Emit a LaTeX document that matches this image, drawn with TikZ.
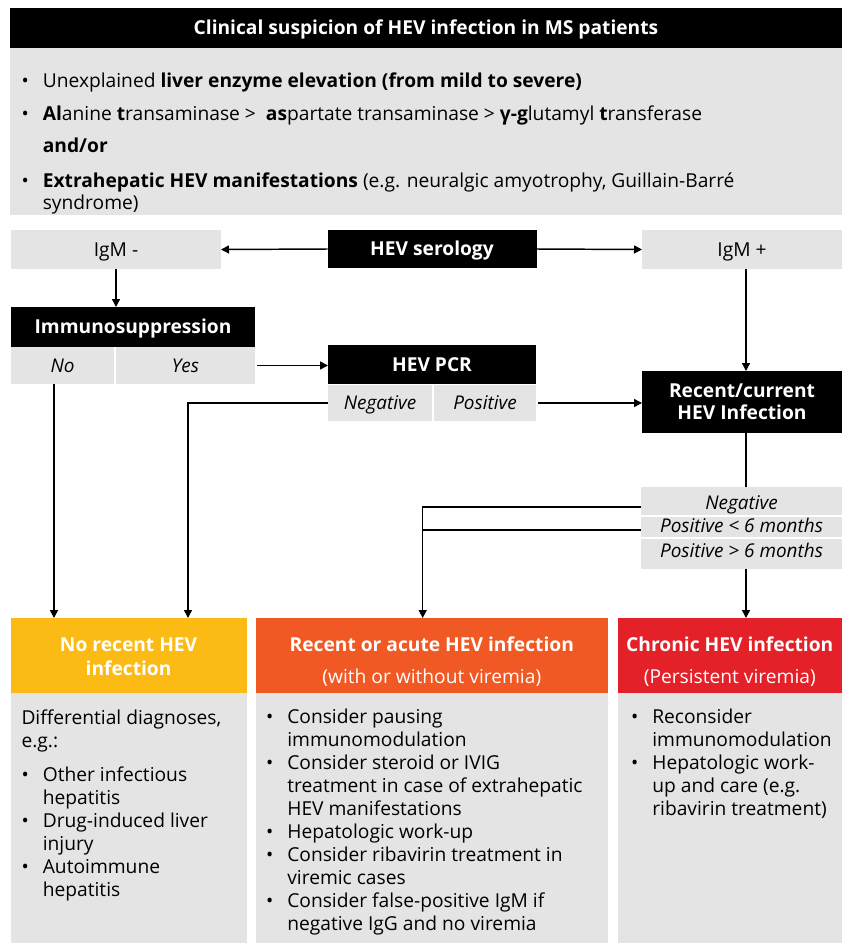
\documentclass[tikz,border=0pt]{standalone}
\usepackage{fontspec}
\setmainfont{Open Sans}
\usetikzlibrary{arrows.meta}
\definecolor{lgray}{RGB}{228,228,228}
\definecolor{hyellow}{RGB}{252,187,20}
\definecolor{horange}{RGB}{240,88,36}
\definecolor{hred}{RGB}{228,32,40}
\newcommand{\bx}{\makebox[16pt][l]{\textbullet}}
\newcommand{\ind}{\hspace*{16pt}}
\tikzset{
  blk/.style={fill=black, text=white, font=\fontsize{14.4}{16.5}\selectfont\bfseries},
  gry/.style={fill=lgray, font=\fontsize{14.4}{16.5}\selectfont},
  cell/.style={fill=lgray, font=\fontsize{14.2}{16.5}\selectfont\itshape},
  ctr/.style={text height=10.3pt, text depth=0pt},
  hdr/.style={text=white, align=center, font=\fontsize{14.4}{18}\selectfont},
  bodybox/.style={fill=lgray},
  body/.style={anchor=base west, align=left, font=\fontsize{14.4}{17.25}\selectfont},
  arr/.style={-{Triangle[length=6pt,width=6pt]}, line width=1.1pt},
  ln/.style={line width=1.1pt},
}
\begin{document}
\begin{tikzpicture}[x=0.75pt,y=-0.75pt,
  every node/.style={inner sep=0pt, outer sep=0pt}]
\useasboundingbox (0,0) rectangle (842,943);
\fill[white] (0,0) rectangle (842,943);

% header
\node[blk, ctr, minimum width=624pt, minimum height=30pt] (head) at (426,28) {Clinical suspicion of HEV infection in MS patients};
\node[bodybox, minimum width=624pt, minimum height=125.25pt] (crit) at (426,131.5) {};
\node[body, font=\fontsize{14.4}{16.5}\selectfont] (crittext) at (21.5,209.5) {%
\bx Unexplained \textbf{liver enzyme elevation (from mild to severe)}\\[8.25pt]
\bx\textbf{Al}anine \textbf{t}ransaminase >\ \ \textbf{as}partate transaminase > \textbf{γ-g}lutamyl \textbf{t}ransferase\\[7.5pt]
\ind\textbf{and/or}\\[9.75pt]
\bx\textbf{Extrahepatic HEV manifestations} (e.g. neuralgic amyotrophy, Guillain-Barré\\
\ind syndrome)};

% serology row
\node[gry, ctr, minimum width=157.5pt, minimum height=29.25pt] (igmneg) at (116,249.5) {IgM -};
\node[blk, ctr, minimum width=156.75pt, minimum height=28.5pt] (sero) at (432,249) {HEV serology};
\node[gry, ctr, minimum width=150pt, minimum height=29.25pt] (igmpos) at (742,249.5) {IgM +};

% immunosuppression
\node[blk, ctr, minimum width=183pt, minimum height=30pt] (immuno) at (133,327) {Immunosuppression};
\node[cell, ctr, minimum width=77.25pt, minimum height=27.75pt] (no) at (62.5,365.5) {No};
\node[cell, ctr, minimum width=104.25pt, minimum height=27.75pt] (yes) at (185.5,365.5) {Yes};

% PCR
\node[blk, ctr, minimum width=156pt, minimum height=29.25pt] (pcr) at (432,364.5) {HEV PCR};
\node[cell, ctr, minimum width=78pt, minimum height=27pt] (neg) at (380,403) {Negative};
\node[cell, ctr, minimum width=76.5pt, minimum height=27pt] (pos) at (485,403) {Positive};

% recent/current
\node[blk, minimum width=150pt, minimum height=46.5pt, align=center] (recent) at (742,402) {Recent/current\\HEV Infection};
\node[cell, minimum width=150.75pt, minimum height=21.4pt, text height=13.3pt, text depth=0pt] (r1) at (741.5,501) {Negative};
\node[cell, minimum width=150.75pt, minimum height=14.6pt, text height=10.3pt, text depth=2.2pt] (r2) at (741.5,527) {Positive < 6 months};
\node[cell, minimum width=150.75pt, minimum height=22.5pt, text height=10.3pt, text depth=5.8pt] (r3) at (741.5,554) {Positive > 6 months};

% bottom boxes
\node[fill=hyellow, minimum width=176.85pt, minimum height=56.25pt] (yellow) at (128.6,655.5) {};
\node[fill=horange, minimum width=264.3pt, minimum height=56.25pt] (orange) at (431.8,655.5) {};
\node[fill=hred, minimum width=168.3pt, minimum height=56.25pt] (red) at (729.8,655.5) {};
\node[hdr, font=\fontsize{14.4}{18}\selectfont\bfseries] (ytitle) at (128.6,656.5) {No recent HEV\\infection};
\node[hdr] (otitle) at (431.8,661.5) {\textbf{Recent or acute HEV infection}\\[6pt](with or without viremia)};
\node[hdr] (rtitle) at (729.8,661.5) {\textbf{Chronic HEV infection}\\[6pt](Persistent viremia)};

\node[bodybox, minimum width=176.85pt, minimum height=187.5pt] (ybody) at (128.6,818) {};
\node[bodybox, minimum width=264.3pt, minimum height=187.5pt] (obody) at (431.8,818) {};
\node[bodybox, minimum width=168.3pt, minimum height=187.5pt] (rbody) at (729.8,818) {};

\node[body] (ytext) at (21.5,896) {%
Differential diagnoses,\\
e.g.:\\[8.25pt]
\bx Other infectious\\
\ind hepatitis\\
\bx Drug-induced liver\\
\ind injury\\
\bx Autoimmune\\
\ind hepatitis};

\node[body] (otext) at (266,930) {%
\bx Consider pausing\\
\ind immunomodulation\\
\bx Consider steroid or IVIG\\
\ind treatment in case of extrahepatic\\
\ind HEV manifestations\\
\bx Hepatologic work-up\\
\bx Consider ribavirin treatment in\\
\ind viremic cases\\
\bx Consider false-positive IgM if\\
\ind negative IgG and no viremia};

\node[body] (rtext) at (631,815) {%
\bx Reconsider\\
\ind immunomodulation\\
\bx Hepatologic work-\\
\ind up and care (e.g.\\
\ind ribavirin treatment)};

% connectors
\draw[arr] (sero.west) -- (igmneg.east);
\draw[arr] (sero.east) -- (igmpos.west);
\draw[arr] (igmneg.south) -- (igmneg.south |- immuno.north);
\draw[arr] ([xshift=1.5pt]yes.east) -- (yes.east -| pcr.west);
\draw[arr] ([xshift=1.5pt]pos.east) -- (pos.east -| recent.west);
\draw[arr] (igmpos.south -| 746,0) -- (recent.north -| 746,0);
\draw[ln] (recent.south -| 746,0) -- (r1.north -| 746,0);
\draw[arr] (r3.south -| 746,0) -- (red.north -| 746,0);

\coordinate (noout) at (54,384);
\draw[arr] (noout) -- (noout |- yellow.north);
\coordinate (negx) at (188,0);
\draw[arr] (neg.west) -| (negx |- yellow.north);

\coordinate (n1) at (641,507);
\coordinate (n2) at (641,530);
\coordinate (jx) at (422.7,0);
\draw[ln] (n2) -- (n2 -| jx);
\draw[arr] (n1) -| (jx |- orange.north);
\end{tikzpicture}
\end{document}
